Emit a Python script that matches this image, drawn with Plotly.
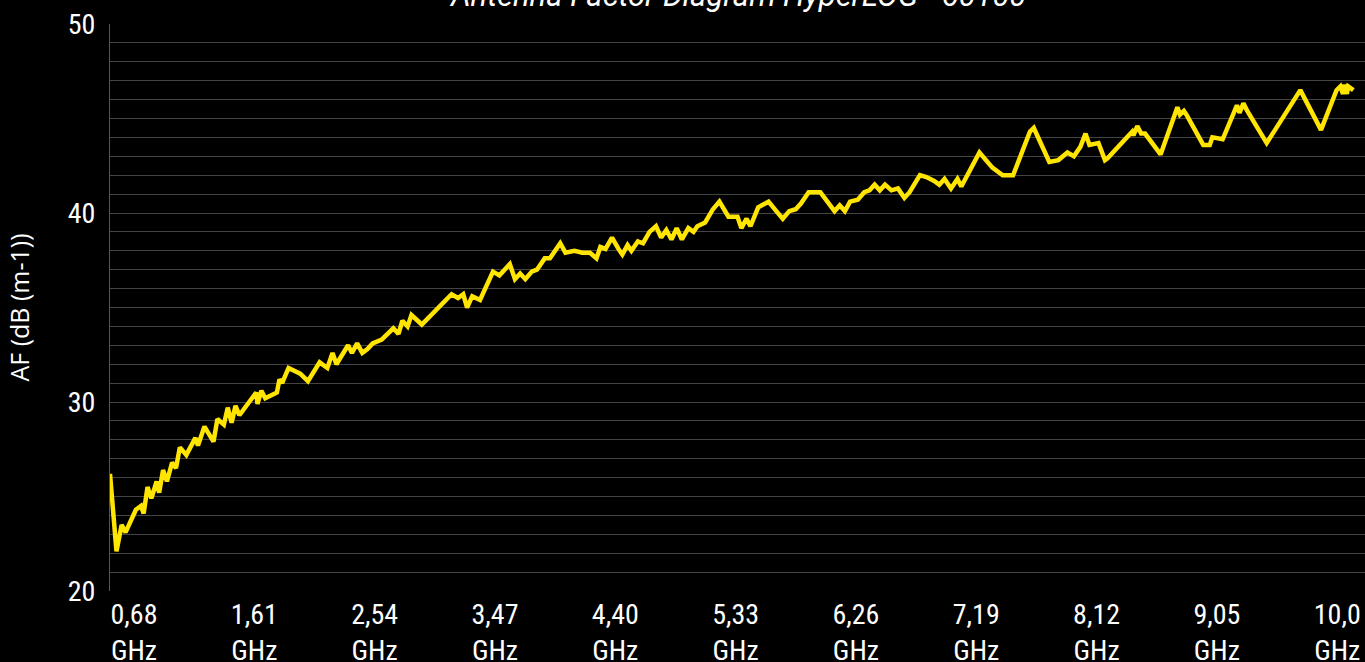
import plotly.graph_objects as go

# ---- data ----
freq_ghz = [
    0.68, 0.73, 0.77, 0.80, 0.88, 0.92, 0.94, 0.97, 1.00, 1.04, 1.06, 1.09, 1.12, 1.16, 1.19,
    1.22, 1.27, 1.34, 1.36, 1.41, 1.48, 1.51, 1.56, 1.59, 1.62, 1.65, 1.68, 1.81, 1.82, 1.85,
    1.88, 1.97, 1.99, 2.01, 2.06, 2.15, 2.21, 2.30, 2.36, 2.40, 2.43, 2.52, 2.55, 2.59, 2.63,
    2.67, 2.71, 2.78, 2.87, 2.91, 2.94, 2.98, 3.01, 3.09, 3.32, 3.37, 3.41, 3.44, 3.48, 3.54,
    3.64, 3.69, 3.73, 3.77, 3.81, 3.85, 3.89, 3.94, 3.98, 4.04, 4.08, 4.12, 4.16, 4.20, 4.27,
    4.33, 4.39, 4.44, 4.47, 4.51, 4.56, 4.61, 4.64, 4.68, 4.71, 4.76, 4.80, 4.85, 4.90, 4.94,
    4.98, 5.02, 5.06, 5.10, 5.15, 5.19, 5.22, 5.28, 5.34, 5.39, 5.46, 5.53, 5.56, 5.60, 5.63,
    5.69, 5.77, 5.83, 5.88, 5.93, 5.98, 6.02, 6.08, 6.17, 6.21, 6.28, 6.32, 6.36, 6.40, 6.46,
    6.51, 6.55, 6.59, 6.63, 6.67, 6.72, 6.77, 6.82, 6.86, 6.94, 6.99, 7.05, 7.09, 7.13, 7.18,
    7.23, 7.26, 7.36, 7.40, 7.50, 7.58, 7.66, 7.79, 7.82, 7.94, 8.01, 8.08, 8.13, 8.18, 8.22,
    8.25, 8.32, 8.37, 8.39, 8.58, 8.59, 8.62, 8.65, 8.68, 8.80, 8.93, 8.95, 8.98, 9.00, 9.13,
    9.18, 9.20, 9.28, 9.39, 9.41, 9.44, 9.47, 9.62, 9.88, 10.04, 10.16, 10.19, 10.21, 10.22, 10.24,
    10.25, 10.29,
]
af_db = [
    26.2, 22.1, 23.5, 23.1, 24.3, 24.5, 24.1, 25.5, 24.9, 25.8, 25.2, 26.4, 25.8, 26.8, 26.5,
    27.6, 27.2, 28.1, 27.7, 28.7, 27.9, 29.1, 28.8, 29.7, 28.9, 29.8, 29.3, 30.5, 29.9, 30.6,
    30.2, 30.5, 31.2, 31.0, 31.8, 31.5, 31.1, 32.1, 31.8, 32.6, 32.0, 33.0, 32.6, 33.1, 32.6,
    32.8, 33.1, 33.3, 33.9, 33.6, 34.3, 34.0, 34.6, 34.1, 35.7, 35.5, 35.7, 35.0, 35.6, 35.4,
    36.9, 36.7, 37.0, 37.3, 36.5, 36.8, 36.5, 36.9, 37.0, 37.6, 37.6, 38.0, 38.4, 37.9, 38.0,
    37.9, 37.9, 37.6, 38.2, 38.1, 38.7, 38.1, 37.8, 38.3, 38.0, 38.5, 38.4, 39.0, 39.3, 38.7,
    39.1, 38.6, 39.2, 38.6, 39.2, 39.0, 39.3, 39.5, 40.2, 40.6, 39.8, 39.8, 39.2, 39.7, 39.3,
    40.3, 40.6, 40.1, 39.7, 40.1, 40.2, 40.5, 41.1, 41.1, 40.7, 40.1, 40.4, 40.1, 40.6, 40.7,
    41.1, 41.2, 41.5, 41.2, 41.5, 41.2, 41.3, 40.8, 41.1, 42.0, 41.9, 41.7, 41.5, 41.8, 41.3,
    41.8, 41.4, 42.7, 43.2, 42.4, 42.0, 42.0, 44.3, 44.5, 42.7, 42.8, 43.2, 43.0, 43.5, 44.2,
    43.6, 43.7, 42.8, 42.9, 44.3, 44.1, 44.6, 44.2, 44.2, 43.1, 45.6, 45.2, 45.4, 45.2, 43.6,
    43.6, 44.0, 43.9, 45.7, 45.3, 45.8, 45.4, 43.7, 46.5, 44.4, 46.5, 46.7, 46.3, 46.8, 46.3,
    46.7, 46.5,
]
tick_ghz = [0.68, 1.61, 2.54, 3.47, 4.40, 5.33, 6.26, 7.19, 8.12, 9.05, 9.98]
tick_text = ["0,68<br>GHz", "1,61<br>GHz", "2,54<br>GHz", "3,47<br>GHz", "4,40<br>GHz",
             "5,33<br>GHz", "6,26<br>GHz", "7,19<br>GHz", "8,12<br>GHz", "9,05<br>GHz",
             "10,0<br>GHz"]
title_text = "Antenna Factor Diagram HyperLOG - 60100"
y_title = "AF (dB (m-1))"

NARROW = "Roboto Condensed, Liberation Sans Narrow, Arial Narrow, Roboto, sans-serif"

fig = go.Figure()
fig.add_trace(go.Scatter(
    x=freq_ghz, y=af_db, mode="lines",
    line=dict(color="#FFE500", width=4.5),
    hoverinfo="x+y", showlegend=False,
))

# chart title, partly cut off at the top edge as in the reference
fig.add_annotation(
    text=title_text, xref="paper", x=0.5, yref="paper", y=1.0,
    xanchor="center", yanchor="middle", yshift=29, showarrow=False,
    font=dict(family="Roboto, sans-serif", size=31, color="#ffffff", style="italic"),
)

fig.update_layout(
    width=1365, height=662,
    paper_bgcolor="#000000", plot_bgcolor="#000000",
    margin=dict(l=110, r=0, t=24, b=71),
    font=dict(family=NARROW, color="#ffffff"),
    xaxis=dict(
        range=[0.68, 10.38], tickmode="array", tickvals=tick_ghz, ticktext=tick_text,
        tickfont=dict(family=NARROW, size=28, color="#ffffff"),
        ticklabelshift=24, ticklabelstandoff=4,
        showgrid=False, automargin=False,
        zeroline=False, showline=False, ticks="",
    ),
    yaxis=dict(
        range=[20, 50], tickmode="array", tickvals=[20, 30, 40, 50],
        tickfont=dict(family=NARROW, size=28, color="#ffffff"),
        showgrid=True, gridcolor="#444444", gridwidth=1,
        minor=dict(dtick=1, showgrid=True, gridcolor="#444444", gridwidth=1),
        zeroline=False, showline=True, linecolor="#555555", linewidth=1,
        ticks="", ticklabelstandoff=8, automargin=False,
        title=dict(text=y_title, font=dict(family="Open Sans, Roboto, sans-serif", size=25,
                                           color="#ffffff"),
                   standoff=30),
    ),
)

fig.write_html(
    "out.html",
    config={"displayModeBar": False},
    post_script="document.body.style.margin='0';document.body.style.overflow='hidden';",
)
